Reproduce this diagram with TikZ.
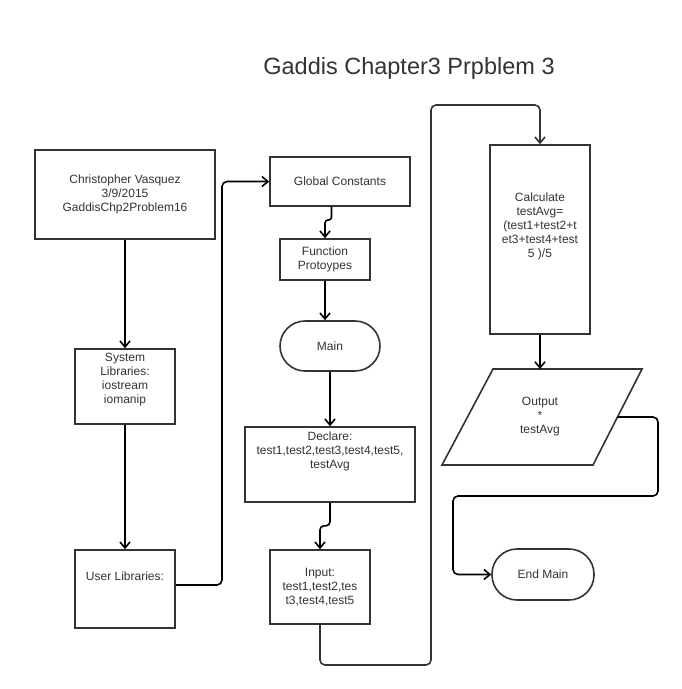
\documentclass[tikz,border=0pt]{standalone}
\usepackage{fontspec}
\setmainfont{Liberation Sans}
\usetikzlibrary{arrows.meta}
\begin{document}
\begin{tikzpicture}[x=1pt,y=-1pt,
  box/.style={draw=black!80, line width=1.6pt, fill=white, inner sep=0pt, align=center,
    font=\fontsize{12}{14}\selectfont, text=black!80},
  txt/.style={inner sep=0pt, align=center, font=\fontsize{12}{14}\selectfont, text=black!80},
  term/.style={box, rounded corners=25pt},
  conn/.style={draw=black, line width=1.6pt, rounded corners=5pt},
  arr/.style={conn, -{Straight Barb[length=6pt,width=10pt,line width=1.6pt]}}]
\useasboundingbox[fill=white] (0,0) rectangle (682,689);

\node[txt, font=\fontsize{23.5}{28}\selectfont] (title) at (409,68) {Gaddis Chapter3 Prpblem 3};

% left column
\node[box, minimum width=180pt, minimum height=89pt] (chris) at (125,194.5)
  {Christopher Vasquez\\3/9/2015\\GaddisChp2Problem16};
\node[box, minimum width=100pt, minimum height=75pt] (sys) at (125,386.5) {};
\node[txt] (systxt) at (125,380) {System\\Libraries:\\iostream\\iomanip};
\node[box, minimum width=100pt, minimum height=78pt] (user) at (125,589) {};
\node[txt] (usertxt) at (125,576) {User Libraries:};

% middle column
\node[box, minimum width=140pt, minimum height=49pt] (glob) at (340,181.5) {Global Constants};
\node[box, minimum width=90pt, minimum height=41pt] (func) at (325,259.5) {Function\\Protoypes};
\node[term, minimum width=100pt, minimum height=50pt] (mainT) at (330,346) {Main};
\node[box, minimum width=170pt, minimum height=75pt] (decl) at (330,464.5) {};
\node[txt] (decltxt) at (330,451) {Declare:\\test1,test2,test3,test4,test5,\\testAvg};
\node[box, minimum width=100pt, minimum height=74pt] (inp) at (320,587)
  {Input:\\test1,test2,tes\\t3,test4,test5};

% right column
\node[box, minimum width=100pt, minimum height=189pt] (calc) at (540,239.5) {};
\node[txt] (calctxt) at (540,226) {Calculate\\testAvg=\\(test1+test2+t\\et3+test4+test\\5 )/5};
\draw[draw=black!80, line width=1.6pt, fill=white] (493,369) -- (642,369) -- (593,465) -- (442,465) -- cycle;
\node[txt] (outtxt) at (540,417) {Output\\*\\testAvg};
\coordinate (outT) at (540,369);
\coordinate (outR) at (617.5,417);
\node[term, minimum width=102pt, minimum height=51pt] (endm) at (543,574.5) {End Main};

% connectors
\draw[arr] (chris.south) -- (sys.north);
\draw[arr] (sys.south) -- (user.north);
\draw[arr] (user.east |- 0,585) -- (222,585) |- (glob.west);
\draw[arr, rounded corners=3pt] (331.5,206) -- (331.5,220) -| (func.north);
\draw[arr] (func.south) -- (func.south |- mainT.north);
\draw[arr] (mainT.south) -- (decl.north);
\draw[arr, rounded corners=4pt] (decl.south) -- ++(0,23) -| (inp.north);
\coordinate (loopTop) at (431,105);
\draw[arr, draw=black!80] (inp.south) -- (320,665) -| (loopTop) -| (calc.north);
\draw[arr] (calc.south) -- (outT);
\coordinate (turnA) at (658,496);
\coordinate (turnB) at (453,496);
\draw[arr] (outR) -| (turnA) -- (turnB) |- (endm.west);
\end{tikzpicture}
\end{document}
